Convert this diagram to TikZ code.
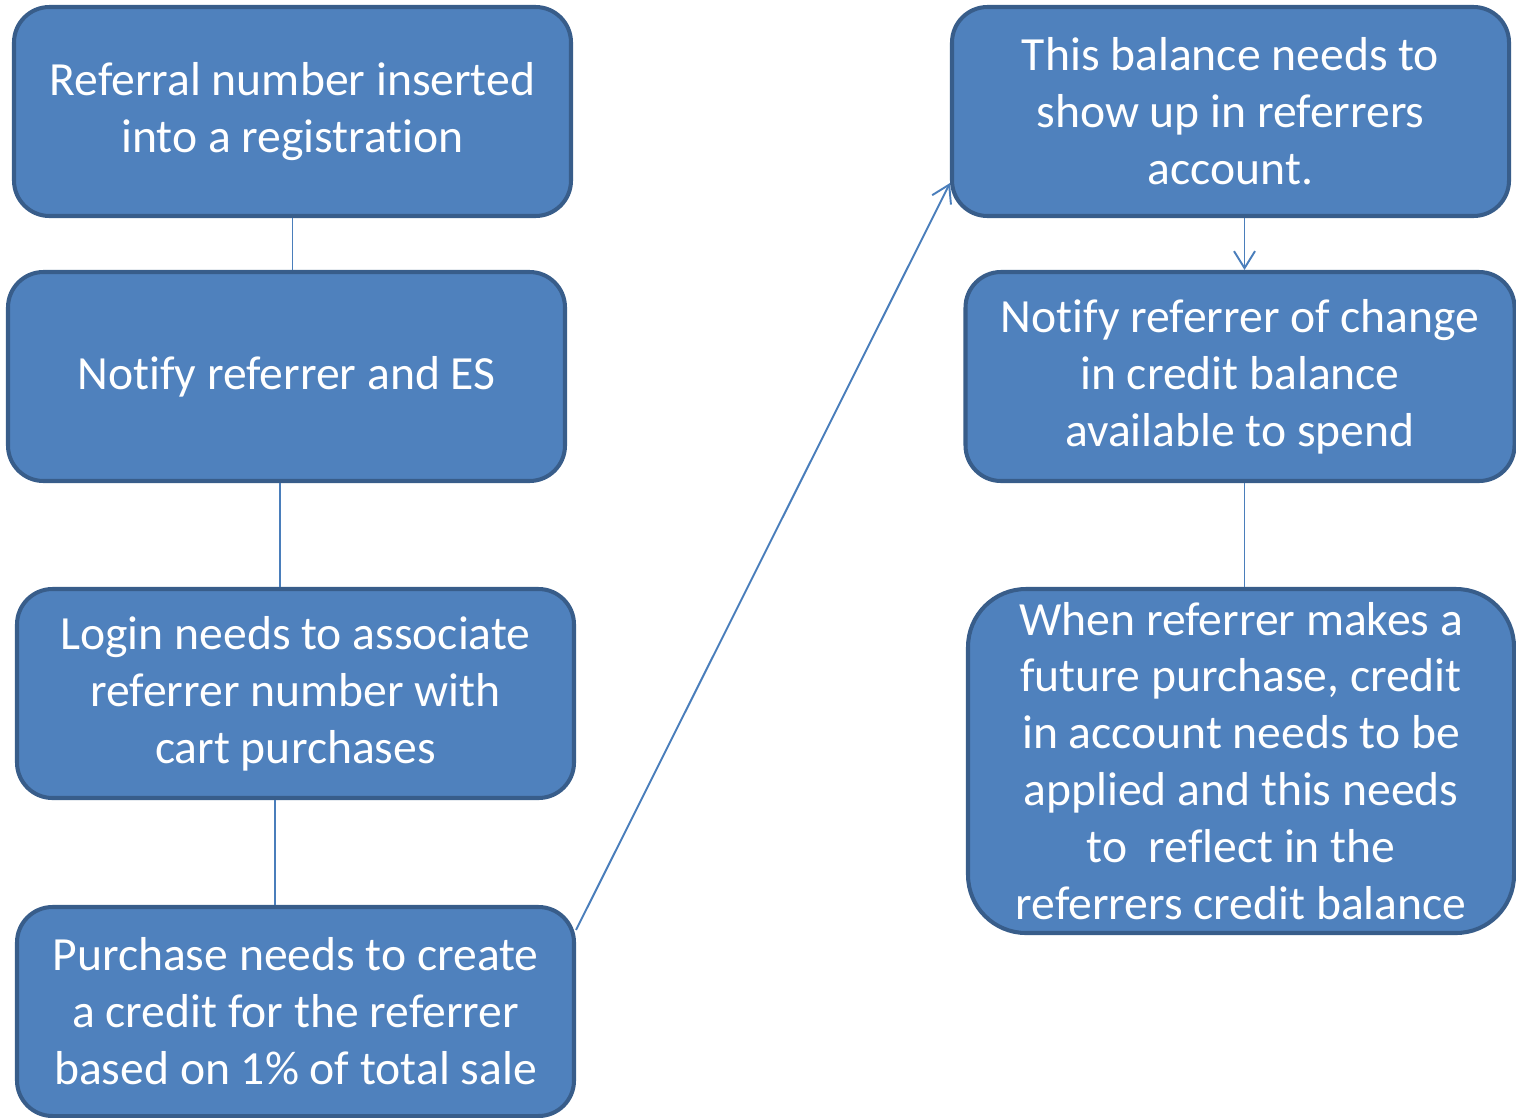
\documentclass[tikz,border=0pt]{standalone}
\usepackage{fontspec}
\setmainfont{Carlito}[Ligatures={NoCommon}]
\usepackage{tikz}
\usetikzlibrary{arrows.meta}
\definecolor{boxfill}{HTML}{4F81BD}
\definecolor{boxline}{HTML}{385D8A}
\definecolor{conline}{HTML}{4A7EBB}
\tikzstyle{box} = [draw=boxline, fill=boxfill, line width=2.3pt, rounded corners=0.71cm,
  minimum width=11.14cm, minimum height=4.18cm, text=white, align=center,
  font=\fontsize{27.1}{32.4}\selectfont]
\tikzstyle{con} = [draw=conline, line width=1.1pt]

\begin{document}
\begin{tikzpicture}
  \useasboundingbox (0,0) rectangle (30.32,-22.34);
  \node (a) at ( 5.85,-2.23) [box] {Referral number inserted\\into a registration};
  \node (b) at ( 5.73,-7.53) [box] {Notify referrer and ES};
  \node (c) at ( 5.91,-13.87) [box] {Login needs to associate\\referrer number with\\cart purchases};
  \node (d) at ( 5.91,-20.23) [box] {Purchase needs to create\\a credit for the referrer\\based on 1\% of total sale};
  \node (e) at (24.61,-2.23) [box] {This balance needs to\\show up in referrers\\account.};
  \node (f) at (24.80,-7.53) [box, minimum width=10.98cm] {Notify referrer of change\\in credit balance\\available to spend};
  \node (g) at (24.82,-15.22) [box, minimum width=10.92cm, minimum height=6.88cm, rounded corners=1.16cm]
    {When referrer makes a\\future purchase, credit\\in account needs to be\\applied and this needs\\to~ reflect in the\\referrers credit balance};
  \draw [con] (a.south) -- (a.south |- b.north);
  \draw [con] ([xshift=-0.13cm]b.south) -- ([xshift=-0.13cm]b.south |- c.north);
  \draw [con] ([xshift=-0.41cm]c.south) -- ([xshift=-0.41cm]c.south |- d.north);
  \draw [con, -{Straight Barb[length=0.34cm, width=0.42cm]}] ([yshift=-0.5cm]d.north east) -- ([yshift=0.7cm]e.south west);
  \draw [con, -{Straight Barb[length=0.34cm, width=0.42cm]}] ([xshift=0.09cm]f.north |- e.south) -- ([xshift=0.09cm]f.north);
  \draw [con] ([xshift=0.09cm]f.south) -- ([xshift=0.09cm]f.south |- g.north);
\end{tikzpicture}
\end{document}
